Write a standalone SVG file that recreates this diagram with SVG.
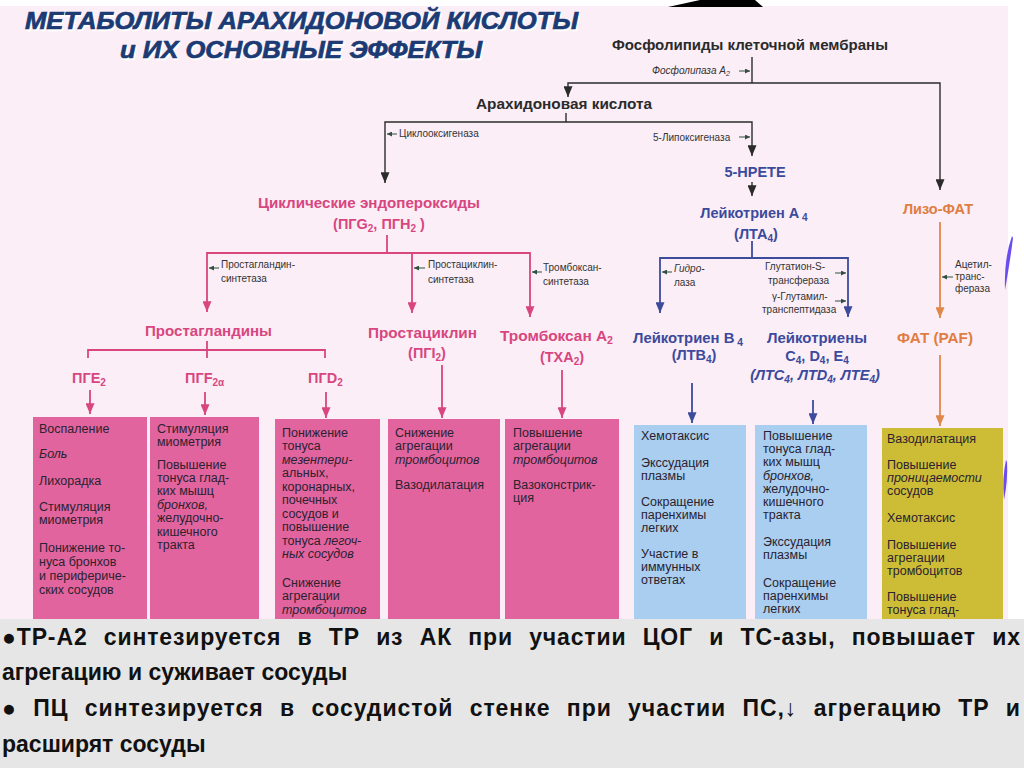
<svg xmlns="http://www.w3.org/2000/svg" width="1024" height="768" viewBox="0 0 1024 768">
<defs>
<style>
.t{font-family:"Liberation Sans",Arial,sans-serif}
.ttl{font-family:"Liberation Sans",Arial,sans-serif;font-weight:bold;font-style:italic;font-size:24px}
.blk{font-family:"Liberation Sans",Arial,sans-serif;font-weight:bold;font-size:15px;fill:#2a2a2a}
.pk{font-family:"Liberation Sans",Arial,sans-serif;font-weight:bold;font-size:14.5px;fill:#d8467f}
.bl{font-family:"Liberation Sans",Arial,sans-serif;font-weight:bold;font-size:14.5px;fill:#3b4a9c}
.or{font-family:"Liberation Sans",Arial,sans-serif;font-weight:bold;font-size:14.5px;fill:#e07d40}
.enz{font-family:"Liberation Sans",Arial,sans-serif;font-size:10px;fill:#333}
.bx{font-family:"Liberation Sans",Arial,sans-serif;font-size:12.5px;fill:#2a2230}
.it{font-style:italic}
.pkbox{fill:#e2649e}
.blbox{fill:#a9ceef}
.ylbox{fill:#cdbd36}
.cb{fill:none;stroke:#2b2b2b;stroke-width:1.4}
.cp{fill:none;stroke:#d9457f;stroke-width:1.8}
.cl{fill:none;stroke:#3c4b9b;stroke-width:1.8}
.co{fill:none;stroke:#e0874a;stroke-width:1.8}
.ce{fill:none;stroke:#2f4f3f;stroke-width:1}
.note{font-family:"Liberation Sans",Arial,sans-serif;font-weight:bold;font-size:23px;fill:#111}
</style>
<marker id="ab" viewBox="0 0 12 10" refX="12" refY="5" markerWidth="12" markerHeight="9" markerUnits="userSpaceOnUse" orient="auto"><path d="M0,0L12,5L0,10z" fill="#2b2b2b"/></marker>
<marker id="ap" viewBox="0 0 12 10" refX="12" refY="5" markerWidth="12" markerHeight="9" markerUnits="userSpaceOnUse" orient="auto"><path d="M0,0L12,5L0,10z" fill="#d9457f"/></marker>
<marker id="al" viewBox="0 0 12 10" refX="12" refY="5" markerWidth="12" markerHeight="9" markerUnits="userSpaceOnUse" orient="auto"><path d="M0,0L12,5L0,10z" fill="#3c4b9b"/></marker>
<marker id="ao" viewBox="0 0 12 10" refX="12" refY="5" markerWidth="12" markerHeight="9" markerUnits="userSpaceOnUse" orient="auto"><path d="M0,0L12,5L0,10z" fill="#e0874a"/></marker>
<marker id="ae" viewBox="0 0 10 10" refX="10" refY="5" markerWidth="6" markerHeight="5" markerUnits="userSpaceOnUse" orient="auto"><path d="M0,0L10,5L0,10z" fill="#2f4f3f"/></marker>
</defs>

<rect x="0" y="0" width="1024" height="768" fill="#ffffff"/>
<rect x="0" y="6" width="1008" height="614" fill="#fbeef7"/>
<path d="M668,7 L700,0 L755,0 L763,7 Z" fill="#000"/>
<path d="M1012,236 Q1004,258 1005,290 Q1010,262 1013,238 Z" fill="#6a4cf0"/>
<path d="M1006,460 Q1002,478 1004,500 Q1008,480 1007,462 Z" fill="#6a4cf0"/>

<g id="title">
<text class="ttl" x="26.5" y="30.5" textLength="553" lengthAdjust="spacingAndGlyphs" fill="#ffffff" stroke="#ffffff" stroke-width="0.7">МЕТАБОЛИТЫ АРАХИДОНОВОЙ КИСЛОТЫ</text>
<text class="ttl" x="121.5" y="59.5" textLength="362" lengthAdjust="spacingAndGlyphs" fill="#ffffff" stroke="#ffffff" stroke-width="0.7">и ИХ ОСНОВНЫЕ ЭФФЕКТЫ</text>
<text class="ttl" x="25" y="29" textLength="553" lengthAdjust="spacingAndGlyphs" fill="#1c3a73" stroke="#1c3a73" stroke-width="0.7">МЕТАБОЛИТЫ АРАХИДОНОВОЙ КИСЛОТЫ</text>
<text class="ttl" x="120" y="58" textLength="362" lengthAdjust="spacingAndGlyphs" fill="#1c3a73" stroke="#1c3a73" stroke-width="0.7">и ИХ ОСНОВНЫЕ ЭФФЕКТЫ</text>
</g>

<g id="connectors">
<path class="cb" d="M752,57 V83"/>
<path class="cb" d="M752,83 H568 V97" marker-end="url(#ab)"/>
<path class="cb" d="M752,83 H940 V190" marker-end="url(#ab)"/>
<path class="cb" d="M566,113 V122"/>
<path class="cb" d="M566,122 H385 V183" marker-end="url(#ab)"/>
<path class="cb" d="M566,122 H752 V156" marker-end="url(#ab)"/>
<path class="cb" d="M752,182 V196" marker-end="url(#ab)"/>

<path class="cp" d="M387,235 V253"/>
<path class="cp" d="M387,253 H207 V312" marker-end="url(#ap)"/>
<path class="cp" d="M387,253 H530 V317" marker-end="url(#ap)"/>
<path class="cp" d="M412,253 V313" marker-end="url(#ap)"/>
<path class="cp" d="M207,341 V358"/>
<path class="cp" d="M207,350 H88 V358"/>
<path class="cp" d="M207,350 H325 V358"/>
<path class="cp" d="M90,390 V414" marker-end="url(#ap)"/>
<path class="cp" d="M205,392 V415" marker-end="url(#ap)"/>
<path class="cp" d="M326,392 V418" marker-end="url(#ap)"/>
<path class="cp" d="M442,365 V418" marker-end="url(#ap)"/>
<path class="cp" d="M562,370 V418" marker-end="url(#ap)"/>

<path class="cl" d="M752,241 V258"/>
<path class="cl" d="M752,258 H660 V313" marker-end="url(#al)"/>
<path class="cl" d="M752,258 H848 V317" marker-end="url(#al)"/>
<path class="cl" d="M692,383 V423" marker-end="url(#al)"/>
<path class="cl" d="M813,400 V424" marker-end="url(#al)"/>

<path class="co" d="M940,222 V318" marker-end="url(#ao)"/>
<path class="co" d="M940,355 V426" marker-end="url(#ao)"/>

<path class="ce" d="M739,71 H750" marker-end="url(#ae)"/>
<path class="ce" d="M397,134 H387" marker-end="url(#ae)"/>
<path class="ce" d="M739,137 H750" marker-end="url(#ae)"/>
<path class="ce" d="M219,268 H209" marker-end="url(#ae)"/>
<path class="ce" d="M425,268 H414" marker-end="url(#ae)"/>
<path class="ce" d="M542,272 H532" marker-end="url(#ae)"/>
<path class="ce" d="M672,272 H662" marker-end="url(#ae)"/>
<path class="ce" d="M835,273 H846" marker-end="url(#ae)"/>
<path class="ce" d="M835,301 H846" marker-end="url(#ae)"/>
<path class="ce" d="M953,277 H942" marker-end="url(#ae)"/>
</g>

<g id="enzymes">
<text class="enz it" x="652" y="74">Фосфолипаза A<tspan font-size="7" dy="2">2</tspan></text>
<text class="enz" x="399" y="137">Циклооксигеназа</text>
<text class="enz" x="653" y="141">5-Липоксигеназа</text>
<text class="enz" x="221" y="268">Простагландин-</text>
<text class="enz" x="221" y="282">синтетаза</text>
<text class="enz" x="428" y="268">Простациклин-</text>
<text class="enz" x="428" y="283">синтетаза</text>
<text class="enz" x="543" y="271">Тромбоксан-</text>
<text class="enz" x="543" y="285">синтетаза</text>
<text class="enz it" x="674" y="272">Гидро-</text>
<text class="enz" x="674" y="286">лаза</text>
<text class="enz" x="765" y="270">Глутатион-S-</text>
<text class="enz" x="768" y="284">трансфераза</text>
<text class="enz" x="772" y="300">γ-Глутамил-</text>
<text class="enz" x="762" y="313">транспептидаза</text>
<text class="enz" x="955" y="268">Ацетил-</text>
<text class="enz" x="955" y="280">транс-</text>
<text class="enz" x="955" y="292">фераза</text>
</g>

<g id="phospholipids"><text class="blk" x="612" y="50" textLength="276" lengthAdjust="spacingAndGlyphs">Фосфолипиды клеточной мембраны</text></g>
<g id="arachidonic"><text class="blk" x="476" y="109" textLength="176" lengthAdjust="spacingAndGlyphs">Арахидоновая кислота</text></g>

<g id="endoperoxides">
<text class="pk" x="258" y="208" textLength="222" lengthAdjust="spacingAndGlyphs">Циклические эндопероксиды</text>
<text class="pk" x="379" y="229" text-anchor="middle">(ПГG<tspan font-size="10" dy="3">2</tspan><tspan dy="-3">, ПГН</tspan><tspan font-size="10" dy="3">2</tspan><tspan dy="-3"> )</tspan></text>
</g>
<g id="hpete"><text class="bl" x="755" y="177" text-anchor="middle">5-HPETE</text></g>
<g id="lta4">
<text class="bl" x="754" y="218" text-anchor="middle">Лейкотриен A<tspan font-size="10" dy="3"> 4</tspan></text>
<text class="bl" x="756" y="239" text-anchor="middle">(ЛТА<tspan font-size="10" dy="3">4</tspan><tspan dy="-3">)</tspan></text>
</g>
<g id="lysopaf"><text class="or" x="938" y="214" text-anchor="middle">Лизо-ФАТ</text></g>

<g id="prostaglandins"><text class="pk" x="145" y="336" textLength="127" lengthAdjust="spacingAndGlyphs">Простагландины</text></g>
<g id="pge2"><text class="pk" x="72" y="383">ПГЕ<tspan font-size="10" dy="3">2</tspan></text></g>
<g id="pgf2a"><text class="pk" x="185" y="383">ПГF<tspan font-size="10" dy="3">2α</tspan></text></g>
<g id="pgd2"><text class="pk" x="308" y="383">ПГD<tspan font-size="10" dy="3">2</tspan></text></g>
<g id="prostacyclin">
<text class="pk" x="368" y="338" textLength="109" lengthAdjust="spacingAndGlyphs">Простациклин</text>
<text class="pk" x="427" y="358" text-anchor="middle">(ПГI<tspan font-size="10" dy="3">2</tspan><tspan dy="-3">)</tspan></text>
</g>
<g id="thromboxane">
<text class="pk" x="500" y="341" textLength="113" lengthAdjust="spacingAndGlyphs">Тромбоксан A<tspan font-size="10" dy="3">2</tspan></text>
<text class="pk" x="562" y="362" text-anchor="middle">(ТХА<tspan font-size="10" dy="3">2</tspan><tspan dy="-3">)</tspan></text>
</g>
<g id="ltb4">
<text class="bl" x="633" y="343" textLength="110" lengthAdjust="spacingAndGlyphs">Лейкотриен B<tspan font-size="10" dy="3"> 4</tspan></text>
<text class="bl" x="694" y="360" text-anchor="middle">(ЛТВ<tspan font-size="10" dy="3">4</tspan><tspan dy="-3">)</tspan></text>
</g>
<g id="ltcde4">
<text class="bl" x="767" y="343" textLength="100" lengthAdjust="spacingAndGlyphs">Лейкотриены</text>
<text class="bl" x="817" y="361" text-anchor="middle">C<tspan font-size="10" dy="3">4</tspan><tspan dy="-3">, D</tspan><tspan font-size="10" dy="3">4</tspan><tspan dy="-3">, E</tspan><tspan font-size="10" dy="3">4</tspan></text>
<text class="bl it" x="815" y="380" text-anchor="middle">(ЛТС<tspan font-size="10" dy="3">4</tspan><tspan dy="-3">, ЛТD</tspan><tspan font-size="10" dy="3">4</tspan><tspan dy="-3">, ЛТЕ</tspan><tspan font-size="10" dy="3">4</tspan><tspan dy="-3">)</tspan></text>
</g>
<g id="paf"><text class="or" x="897" y="343" textLength="76" lengthAdjust="spacingAndGlyphs">ФАТ (PAF)</text></g>

<g id="box-pge2">
<rect class="pkbox" x="33" y="417" width="114" height="205"/>
<text class="bx" x="39" y="433">Воспаление</text>
<text class="bx it" x="39" y="458">Боль</text>
<text class="bx" x="39" y="485">Лихорадка</text>
<text class="bx" x="39" y="511">Стимуляция</text>
<text class="bx" x="39" y="524">миометрия</text>
<text class="bx" x="39" y="552">Понижение то-</text>
<text class="bx" x="39" y="566">нуса бронхов</text>
<text class="bx" x="39" y="580">и периферичe-</text>
<text class="bx" x="39" y="594">ских сосудов</text>
</g>
<g id="box-pgf2a">
<rect class="pkbox" x="150" y="417" width="109" height="205"/>
<text class="bx" x="157" y="433">Стимуляция</text>
<text class="bx" x="157" y="446">миометрия</text>
<text class="bx" x="157" y="469">Повышение</text>
<text class="bx" x="157" y="482">тонуса глад-</text>
<text class="bx" x="157" y="495">ких мышц</text>
<text class="bx it" x="157" y="509">бронхов,</text>
<text class="bx" x="157" y="522">желудочно-</text>
<text class="bx" x="157" y="536">кишечного</text>
<text class="bx" x="157" y="549">тракта</text>
</g>
<g id="box-pgd2">
<rect class="pkbox" x="275" y="419" width="105" height="203"/>
<text class="bx" x="282" y="437">Понижение</text>
<text class="bx" x="282" y="450">тонуса</text>
<text class="bx it" x="282" y="464">мезентери-</text>
<text class="bx" x="282" y="477">альных,</text>
<text class="bx" x="282" y="491">коронарных,</text>
<text class="bx" x="282" y="504">почечных</text>
<text class="bx" x="282" y="518">сосудов и</text>
<text class="bx" x="282" y="531">повышение</text>
<text class="bx" x="282" y="545">тонуса <tspan class="it">легоч-</tspan></text>
<text class="bx it" x="282" y="558">ных сосудов</text>
<text class="bx" x="282" y="587">Снижение</text>
<text class="bx" x="282" y="600">агрегации</text>
<text class="bx it" x="282" y="614">тромбоцитов</text>
</g>
<g id="box-pgi2">
<rect class="pkbox" x="388" y="419" width="112" height="203"/>
<text class="bx" x="395" y="437">Снижение</text>
<text class="bx" x="395" y="450">агрегации</text>
<text class="bx it" x="395" y="464">тромбоцитов</text>
<text class="bx" x="395" y="489">Вазодилатация</text>
</g>
<g id="box-txa2">
<rect class="pkbox" x="505" y="419" width="114" height="203"/>
<text class="bx" x="513" y="437">Повышение</text>
<text class="bx" x="513" y="450">агрегации</text>
<text class="bx it" x="513" y="464">тромбоцитов</text>
<text class="bx" x="513" y="489">Вазоконстрик-</text>
<text class="bx" x="513" y="502">ция</text>
</g>
<g id="box-ltb4">
<rect class="blbox" x="634" y="425" width="112" height="197"/>
<text class="bx" x="641" y="440">Хемотаксис</text>
<text class="bx" x="641" y="467">Экссудация</text>
<text class="bx" x="641" y="480">плазмы</text>
<text class="bx" x="641" y="506">Сокращение</text>
<text class="bx" x="641" y="519">паренхимы</text>
<text class="bx" x="641" y="532">легких</text>
<text class="bx" x="641" y="558">Участие в</text>
<text class="bx" x="641" y="571">иммунных</text>
<text class="bx" x="641" y="584">ответах</text>
</g>
<g id="box-ltcde4">
<rect class="blbox" x="755" y="425" width="112" height="197"/>
<text class="bx" x="763" y="440">Повышение</text>
<text class="bx" x="763" y="453">тонуса глад-</text>
<text class="bx" x="763" y="466">ких мышц</text>
<text class="bx it" x="763" y="480">бронхов,</text>
<text class="bx" x="763" y="493">желудочно-</text>
<text class="bx" x="763" y="506">кишечного</text>
<text class="bx" x="763" y="519">тракта</text>
<text class="bx" x="763" y="546">Экссудация</text>
<text class="bx" x="763" y="559">плазмы</text>
<text class="bx" x="763" y="587">Сокращение</text>
<text class="bx" x="763" y="600">паренхимы</text>
<text class="bx" x="763" y="613">легких</text>
</g>
<g id="box-paf">
<rect class="ylbox" x="882" y="428" width="121" height="194"/>
<text class="bx" x="887" y="443">Вазодилатация</text>
<text class="bx" x="887" y="469">Повышение</text>
<text class="bx it" x="887" y="482">проницаемости</text>
<text class="bx" x="887" y="495">сосудов</text>
<text class="bx" x="887" y="522">Хемотаксис</text>
<text class="bx" x="887" y="549">Повышение</text>
<text class="bx" x="887" y="562">агрегации</text>
<text class="bx" x="887" y="575">тромбоцитов</text>
<text class="bx" x="887" y="601">Повышение</text>
<text class="bx" x="887" y="614">тонуса глад-</text>
</g>

<g id="notes">
<rect x="0" y="619" width="1024" height="149" fill="#e6e6e6"/>
<text class="note" x="2" y="645" word-spacing="9" textLength="1018" lengthAdjust="spacing">●ТР-А2 синтезируется в ТР из АК при участии ЦОГ и ТС-азы, повышает их</text>
<text class="note" x="2" y="680">агрегацию и суживает сосуды</text>
<text class="note" x="2" y="716" word-spacing="9" textLength="1018" lengthAdjust="spacing">● ПЦ синтезируется в сосудистой стенке при участии ПС,↓ агрегацию ТР и</text>
<text class="note" x="2" y="752">расширят сосуды</text>
</g>
</svg>
